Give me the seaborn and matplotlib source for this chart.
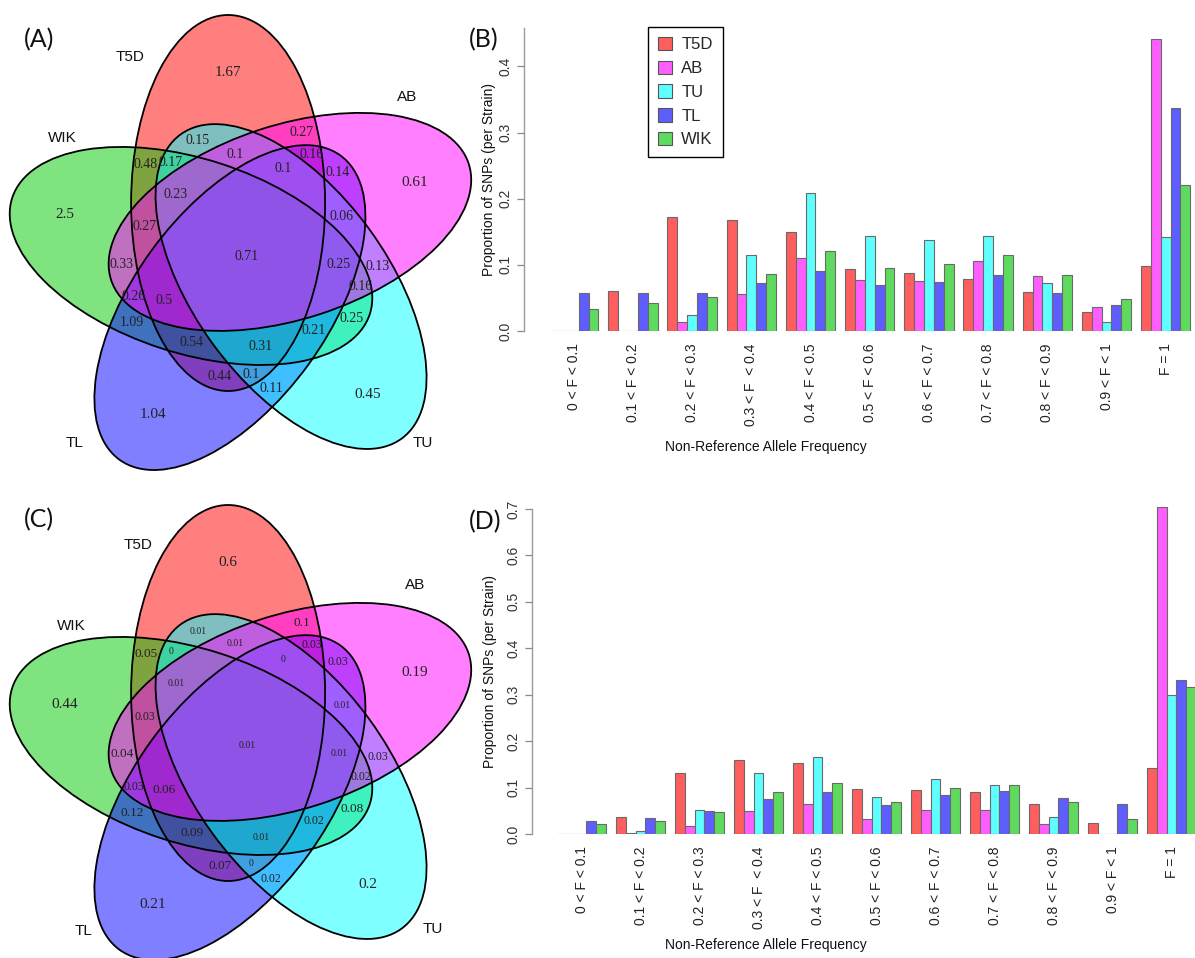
import numpy as np
import pandas as pd
import matplotlib
matplotlib.use("Agg")
import matplotlib.pyplot as plt
from matplotlib.patches import Ellipse, Patch
import seaborn as sns

# ---------------- data ----------------
STRAINS = ["T5D", "AB", "TU", "TL", "WIK"]
BINS = ["0 < F < 0.1", "0.1 < F < 0.2", "0.2 < F < 0.3", "0.3 < F  < 0.4",
        "0.4 < F < 0.5", "0.5 < F < 0.6", "0.6 < F < 0.7", "0.7 < F < 0.8",
        "0.8 < F < 0.9", "0.9 < F < 1", "F = 1"]

# panel B
T5D_B = [0.000, 0.061, 0.173, 0.168, 0.149, 0.094, 0.087, 0.079, 0.059, 0.029, 0.098]
AB_B  = [0.000, 0.000, 0.013, 0.056, 0.111, 0.077, 0.075, 0.106, 0.083, 0.037, 0.441]
TU_B  = [0.000, 0.000, 0.024, 0.115, 0.208, 0.144, 0.138, 0.144, 0.072, 0.014, 0.142]
TL_B  = [0.058, 0.058, 0.058, 0.072, 0.090, 0.070, 0.074, 0.084, 0.058, 0.040, 0.337]
WIK_B = [0.033, 0.042, 0.052, 0.086, 0.121, 0.095, 0.101, 0.115, 0.084, 0.049, 0.220]

# panel D
T5D_D = [0.000, 0.037, 0.131, 0.160, 0.154, 0.096, 0.094, 0.090, 0.064, 0.023, 0.143]
AB_D  = [0.000, 0.002, 0.018, 0.049, 0.065, 0.033, 0.052, 0.052, 0.021, 0.000, 0.704]
TU_D  = [0.000, 0.006, 0.051, 0.132, 0.166, 0.080, 0.118, 0.105, 0.037, 0.000, 0.300]
TL_D  = [0.029, 0.034, 0.050, 0.076, 0.090, 0.063, 0.083, 0.093, 0.077, 0.065, 0.331]
WIK_D = [0.022, 0.029, 0.048, 0.090, 0.110, 0.069, 0.100, 0.105, 0.068, 0.033, 0.317]

# Venn regions (sets joined by "&") and their values in panels A and C
REGIONS = [
    "T5D", "AB", "TU", "TL", "WIK",
    "T5D&AB", "T5D&TU", "T5D&TL", "T5D&WIK", "AB&TU", "AB&TL", "AB&WIK",
    "TU&TL", "TU&WIK", "TL&WIK",
    "T5D&AB&TU", "T5D&AB&TL", "T5D&AB&WIK", "T5D&TU&TL", "T5D&TU&WIK",
    "T5D&TL&WIK", "AB&TU&TL", "AB&TU&WIK", "AB&TL&WIK", "TU&TL&WIK",
    "T5D&AB&TU&TL", "T5D&AB&TU&WIK", "T5D&AB&TL&WIK", "T5D&TU&TL&WIK",
    "AB&TU&TL&WIK", "T5D&AB&TU&TL&WIK",
]
VALUES_A = [1.67, 0.61, 0.45, 1.04, 2.5,
            0.27, 0.15, 0.44, 0.48, 0.13, 0.14, 0.33, 0.11, 0.25, 1.09,
            0.1, 0.16, 0.27, 0.1, 0.17, 0.54, 0.06, 0.16, 0.26, 0.21,
            0.1, 0.23, 0.5, 0.31, 0.25, 0.71]
VALUES_C = [0.6, 0.19, 0.2, 0.21, 0.44,
            0.1, 0.01, 0.07, 0.05, 0.03, 0.03, 0.04, 0.02, 0.08, 0.12,
            0.01, 0.03, 0.03, 0, 0, 0.09, 0.01, 0.02, 0.03, 0.02,
            0, 0.01, 0.06, 0.01, 0.01, 0.01]

# ---------------- styles ----------------
BAR_COLORS = ["#FF5E5E", "#FF5EFF", "#5EFFFF", "#5E5EFF", "#5EDB5E"]
VENN_COLORS = {"T5D": "#FF0000", "AB": "#FF00FF", "TU": "#00FFFF",
               "TL": "#0000FF", "WIK": "#00C800"}
VENN_DRAW_ORDER = ["T5D", "WIK", "TL", "TU", "AB"]

sns.set_theme(style="white")
plt.rcParams["font.family"] = ["Liberation Sans", "DejaVu Sans"]

W, H = 1195, 958
fig = plt.figure(figsize=(W / 100, H / 100), dpi=100)


def px_axes(x0, y0, x1, y1):
    return fig.add_axes([x0 / W, 1 - y1 / H, (x1 - x0) / W, (y1 - y0) / H])


# ---------------- Venn diagrams ----------------
ELL_A, ELL_B = 188, 97       # semi axes (px)
ELL_DIST = 55                # centre offset from diagram centre
ELL_ANGLE0 = 109             # direction of first ellipse centre


def ellipse_params(k):
    th = np.deg2rad(ELL_ANGLE0 - 72 * k)
    return ELL_DIST * np.cos(th), ELL_DIST * np.sin(th), 90 - 72 * k


grid = np.arange(-250, 251)
GX, GY = np.meshgrid(grid, grid)
code = np.zeros(GX.shape, dtype=int)
for k in range(5):
    cx, cy, ang = ellipse_params(k)
    a = np.deg2rad(ang)
    dx, dy = GX - cx, GY - cy
    u = dx * np.cos(a) + dy * np.sin(a)
    v = -dx * np.sin(a) + dy * np.cos(a)
    code |= (((u / ELL_A) ** 2 + (v / ELL_B) ** 2) < 1).astype(int) << k


def pole(mask):
    m = mask.copy()
    last = m
    i = 0
    while m.any():
        last = m
        if i % 2 == 0:
            m = m & np.roll(m, 1, 0) & np.roll(m, -1, 0) & np.roll(m, 1, 1) & np.roll(m, -1, 1)
        else:
            m = (m & np.roll(np.roll(m, 1, 0), 1, 1) & np.roll(np.roll(m, 1, 0), -1, 1)
                 & np.roll(np.roll(m, -1, 0), 1, 1) & np.roll(np.roll(m, -1, 0), -1, 1))
        i += 1
    ys, xs = np.nonzero(last)
    mx, my = xs.mean(), ys.mean()
    j = np.argmin((xs - mx) ** 2 + (ys - my) ** 2)
    return grid[xs[j]], grid[ys[j]]


LABEL_POS = {}
for reg in REGIONS:
    c = sum(1 << STRAINS.index(s) for s in reg.split("&"))
    LABEL_POS[reg] = pole(code == c)


def draw_venn(ax, values, name_pos, size_fn):
    for s in VENN_DRAW_ORDER:
        k = STRAINS.index(s)
        cx, cy, ang = ellipse_params(k)
        ax.add_patch(Ellipse((cx, cy), 2 * ELL_A, 2 * ELL_B, angle=ang,
                             facecolor=VENN_COLORS[s], alpha=0.5, edgecolor="none"))
    for k in range(5):
        cx, cy, ang = ellipse_params(k)
        ax.add_patch(Ellipse((cx, cy), 2 * ELL_A, 2 * ELL_B, angle=ang,
                             facecolor="none", edgecolor="black", lw=1.3))
    for reg, val in zip(REGIONS, values):
        x, y = LABEL_POS[reg]
        ax.text(x, y, f"{val:g}", ha="center", va="center", color="#222222",
                fontsize=size_fn(reg, val), family=["Liberation Serif", "DejaVu Serif"])
    for s, (x, y) in name_pos.items():
        ax.text(x, y, s, ha="center", va="center", fontsize=11, color="#111111")
    ax.set_axis_off()


NAMES_A = {"T5D": (-116, 198), "AB": (161, 158), "WIK": (-184, 117),
           "TL": (-171, -188), "TU": (177, -188)}
NAMES_C = {"T5D": (-108, 200), "AB": (169, 160), "WIK": (-175, 119),
           "TL": (-162, -186), "TU": (187, -184)}


def size_a(reg, val):
    return 11 if "&" not in reg else 10


def size_c(reg, val):
    if "&" not in reg:
        return 11
    if val >= 0.04:
        return 9.5
    if val >= 0.02:
        return 8.5
    return 7


axA = px_axes(0, 0, 480, 480)
axA.set_xlim(-246, 234)
axA.set_ylim(-225, 255)
draw_venn(axA, VALUES_A, NAMES_A, size_a)

axC = px_axes(0, 480, 480, 958)
axC.set_xlim(-246, 234)
axC.set_ylim(-213, 265)
draw_venn(axC, VALUES_C, NAMES_C, size_c)

# ---------------- bar charts ----------------
def long_df(series):
    rows = []
    for s, vals in zip(STRAINS, series):
        for b, v in zip(BINS, vals):
            rows.append({"bin": b, "strain": s, "prop": v})
    return pd.DataFrame(rows)


def draw_bars(ax, df, ymax, ticks, spine_top):
    sns.barplot(data=df, x="bin", y="prop", hue="strain", order=BINS,
                hue_order=STRAINS, palette=BAR_COLORS, width=5 / 6, gap=0,
                saturation=1, edgecolor="#6a6a6a", linewidth=0.8,
                legend=False, ax=ax, errorbar=None)
    ax.set_ylim(0, ymax)
    ax.set_yticks(ticks)
    ax.set_yticklabels([f"{t:.1f}" for t in ticks], rotation=90, va="center",
                       fontsize=10, color="#333333")
    ax.set_xticks(range(len(BINS)))
    ax.set_xticklabels(BINS, rotation=90, fontsize=10, color="#222222")
    ax.tick_params(axis="x", length=0, pad=9)
    ax.tick_params(axis="y", length=5, width=0.9, color="#888888", pad=3,
                   direction="out", left=True)
    for sp in ["top", "right", "bottom"]:
        ax.spines[sp].set_visible(False)
    ax.spines["left"].set_color("#999999")
    ax.spines["left"].set_linewidth(1.0)
    ax.spines["left"].set_bounds(0, spine_top)
    ax.set_xlabel("")
    ax.set_ylabel("")
    ax.set_facecolor("none")


axB = px_axes(524, 28, 1195, 331)
draw_bars(axB, long_df([T5D_B, AB_B, TU_B, TL_B, WIK_B]), 0.458,
          [0, 0.1, 0.2, 0.3, 0.4], 0.458)
axB.set_xlim(-0.84, 10.495)

axD = px_axes(532, 506.7, 1195, 834)
draw_bars(axD, long_df([T5D_D, AB_D, TU_D, TL_D, WIK_D]), 0.705,
          [0, 0.1, 0.2, 0.3, 0.4, 0.5, 0.6, 0.7], 0.7)
axD.set_xlim(-0.84, 10.397)

handles = [Patch(facecolor=c, edgecolor="#555555", lw=0.8) for c in BAR_COLORS]
leg = axB.legend(handles, STRAINS, loc="upper left",
                 bbox_to_anchor=(648 / W, 1 - 27 / H), bbox_transform=fig.transFigure,
                 frameon=True, fancybox=False, framealpha=1, edgecolor="black",
                 fontsize=12, handlelength=0.85, handleheight=0.85,
                 handletextpad=0.55, labelspacing=0.5, borderpad=0.6,
                 borderaxespad=0)
leg.get_frame().set_linewidth(1.0)

# axis titles
for (xc, yc) in [(766, 447), (766, 945)]:
    fig.text(xc / W, 1 - yc / H, "Non-Reference Allele Frequency", ha="center",
             va="center", fontsize=10, color="#111111")
for (xc, yc) in [(489, 180), (490, 671)]:
    fig.text(xc / W, 1 - yc / H, "Proportion of SNPs (per Strain)", ha="center",
             va="center", rotation=90, fontsize=10, color="#111111")

# panel letters
for lab, (xl, yc) in {"(A)": (24, 40), "(B)": (469, 40),
                      "(C)": (24, 520), "(D)": (469, 522)}.items():
    fig.text(xl / W, 1 - yc / H, lab, ha="left", va="center", fontsize=18,
             family=["Lato", "DejaVu Sans"], color="#111111")

fig.savefig("out.png", dpi=100)
